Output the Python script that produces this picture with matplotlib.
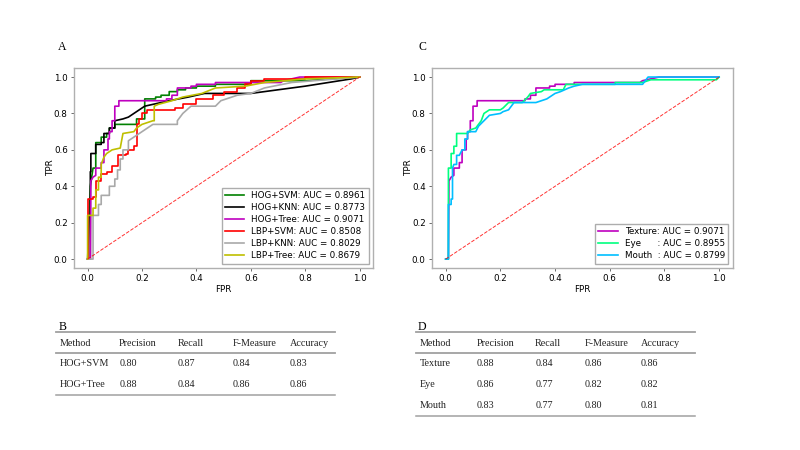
import matplotlib.pyplot as plt
from matplotlib.lines import Line2D

# ROC corner points (panel A)
hog_svm_fpr = [0, 0.01, 0.02, 0.03, 0.03, 0.05, 0.05, 0.07, 0.07, 0.08, 0.08, 0.10, 0.10, 0.18, 0.18, 0.21, 0.21, 0.25, 0.25, 0.27, 0.27, 0.30, 0.30, 0.33, 0.33, 0.36, 0.36, 0.40, 0.40, 0.47, 0.47, 0.60, 0.60, 0.80, 1.0]
hog_svm_tpr = [0, 0.40, 0.50, 0.50, 0.64, 0.64, 0.67, 0.67, 0.69, 0.69, 0.72, 0.72, 0.74, 0.74, 0.77, 0.77, 0.88, 0.88, 0.89, 0.89, 0.90, 0.90, 0.92, 0.92, 0.93, 0.93, 0.94, 0.94, 0.95, 0.95, 0.96, 0.96, 0.98, 0.98, 1.0]

hog_knn_fpr = [0, 0.01, 0.01, 0.012, 0.012, 0.03, 0.03, 0.05, 0.05, 0.06, 0.06, 0.08, 0.08, 0.10, 0.10, 0.13, 0.15, 0.17, 0.21, 0.30, 0.37, 0.43, 0.60, 0.80, 0.97, 1.0]
hog_knn_tpr = [0, 0, 0.48, 0.48, 0.58, 0.58, 0.63, 0.63, 0.64, 0.64, 0.69, 0.69, 0.72, 0.72, 0.76, 0.77, 0.78, 0.80, 0.84, 0.87, 0.89, 0.91, 0.91, 0.95, 0.99, 1.0]

tree_fpr = [0, 0.01, 0.012, 0.02, 0.02, 0.03, 0.03, 0.05, 0.05, 0.06, 0.06, 0.075, 0.075, 0.08, 0.08, 0.09, 0.09, 0.10, 0.10, 0.115, 0.115, 0.29, 0.29, 0.31, 0.31, 0.33, 0.33, 0.38, 0.38, 0.40, 0.40, 0.47, 0.47, 0.71, 0.72, 0.75, 0.78, 1.0]
tree_tpr = [0, 0, 0.43, 0.45, 0.45, 0.46, 0.50, 0.50, 0.53, 0.53, 0.60, 0.60, 0.66, 0.66, 0.70, 0.70, 0.76, 0.76, 0.84, 0.84, 0.87, 0.87, 0.88, 0.88, 0.90, 0.90, 0.94, 0.94, 0.95, 0.95, 0.96, 0.96, 0.97, 0.97, 0.98, 0.99, 1.0, 1.0]

lbp_svm_fpr = [0, 0, 0.02, 0.02, 0.03, 0.03, 0.05, 0.05, 0.07, 0.07, 0.09, 0.09, 0.11, 0.11, 0.14, 0.14, 0.15, 0.15, 0.17, 0.17, 0.18, 0.18, 0.19, 0.19, 0.20, 0.20, 0.22, 0.22, 0.32, 0.32, 0.35, 0.35, 0.40, 0.40, 0.46, 0.46, 0.50, 0.50, 0.55, 0.55, 0.58, 0.58, 0.60, 0.60, 0.65, 0.65, 0.80, 0.80, 1.0]
lbp_svm_tpr = [0, 0.33, 0.33, 0.34, 0.34, 0.43, 0.43, 0.47, 0.47, 0.48, 0.48, 0.51, 0.51, 0.57, 0.57, 0.58, 0.58, 0.60, 0.60, 0.62, 0.62, 0.74, 0.74, 0.77, 0.77, 0.80, 0.80, 0.82, 0.82, 0.83, 0.83, 0.85, 0.85, 0.88, 0.88, 0.90, 0.90, 0.92, 0.92, 0.94, 0.94, 0.96, 0.96, 0.98, 0.98, 0.99, 0.99, 1.0, 1.0]

lbp_knn_fpr = [0, 0.02, 0.02, 0.04, 0.04, 0.05, 0.05, 0.08, 0.08, 0.10, 0.10, 0.11, 0.11, 0.12, 0.12, 0.13, 0.13, 0.15, 0.15, 0.20, 0.24, 0.33, 0.33, 0.35, 0.38, 0.47, 0.49, 0.55, 0.60, 0.65, 0.75, 1.0]
lbp_knn_tpr = [0, 0, 0.24, 0.24, 0.30, 0.30, 0.35, 0.35, 0.40, 0.40, 0.44, 0.44, 0.49, 0.49, 0.55, 0.55, 0.60, 0.60, 0.65, 0.70, 0.74, 0.74, 0.76, 0.80, 0.84, 0.84, 0.87, 0.90, 0.91, 0.94, 0.97, 1.0]

lbp_tree_fpr = [0, 0, 0.02, 0.02, 0.03, 0.03, 0.04, 0.04, 0.05, 0.05, 0.06, 0.07, 0.09, 0.12, 0.12, 0.13, 0.17, 0.18, 0.20, 0.24, 0.245, 0.245, 0.26, 0.31, 0.35, 0.42, 0.47, 0.58, 0.65, 0.80, 1.0]
lbp_tree_tpr = [0, 0.24, 0.24, 0.28, 0.28, 0.38, 0.38, 0.45, 0.45, 0.52, 0.56, 0.58, 0.60, 0.61, 0.61, 0.69, 0.70, 0.72, 0.74, 0.76, 0.76, 0.84, 0.85, 0.87, 0.89, 0.91, 0.94, 0.95, 0.97, 0.99, 1.0]

# panel C
eye_fpr = [0, 0.01, 0.01, 0.02, 0.02, 0.03, 0.03, 0.04, 0.04, 0.08, 0.09, 0.11, 0.12, 0.13, 0.14, 0.16, 0.20, 0.21, 0.23, 0.28, 0.30, 0.31, 0.35, 0.36, 0.43, 0.44, 0.62, 0.62, 0.72, 0.75, 0.99, 1.0]
eye_tpr = [0, 0, 0.50, 0.50, 0.58, 0.58, 0.62, 0.62, 0.69, 0.69, 0.71, 0.72, 0.74, 0.76, 0.80, 0.82, 0.82, 0.83, 0.86, 0.86, 0.89, 0.91, 0.92, 0.93, 0.93, 0.96, 0.96, 0.97, 0.97, 0.985, 0.985, 1.0]

mouth_fpr = [0, 0.01, 0.01, 0.02, 0.02, 0.025, 0.025, 0.03, 0.04, 0.04, 0.05, 0.06, 0.07, 0.07, 0.08, 0.08, 0.11, 0.12, 0.14, 0.16, 0.20, 0.21, 0.23, 0.25, 0.33, 0.35, 0.37, 0.40, 0.42, 0.45, 0.47, 0.50, 0.72, 0.73, 0.74, 1.0]
mouth_tpr = [0, 0, 0.30, 0.30, 0.33, 0.33, 0.50, 0.52, 0.52, 0.57, 0.57, 0.60, 0.60, 0.66, 0.66, 0.70, 0.70, 0.73, 0.76, 0.79, 0.80, 0.81, 0.82, 0.86, 0.86, 0.87, 0.88, 0.91, 0.92, 0.94, 0.95, 0.96, 0.96, 0.98, 1.0, 1.0]

# tables
table_header = ["Method", "Precision", "Recall", "F-Measure", "Accuracy"]
table_b = [["HOG+SVM", "0.80", "0.87", "0.84", "0.83"],
           ["HOG+Tree", "0.88", "0.84", "0.86", "0.86"]]
table_d = [["Texture", "0.88", "0.84", "0.86", "0.86"],
           ["Eye", "0.86", "0.77", "0.82", "0.82"],
           ["Mouth", "0.83", "0.77", "0.80", "0.81"]]

fig = plt.figure(figsize=(8, 4.5), dpi=100)
axA = fig.add_axes([0.0925, 0.404, 0.374, 0.445])
axC = fig.add_axes([0.540, 0.404, 0.376, 0.445])

lw = 1.2
axA.plot(hog_svm_fpr, hog_svm_tpr, color='green', lw=lw, label='HOG+SVM: AUC = 0.8961')
axA.plot(hog_knn_fpr, hog_knn_tpr, color='black', lw=lw, label='HOG+KNN: AUC = 0.8773')
axA.plot(tree_fpr, tree_tpr, color='m', lw=lw, label='HOG+Tree: AUC = 0.9071')
axA.plot(lbp_svm_fpr, lbp_svm_tpr, color='red', lw=lw, label='LBP+SVM: AUC = 0.8508')
axA.plot(lbp_knn_fpr, lbp_knn_tpr, color='darkgrey', lw=lw, label='LBP+KNN: AUC = 0.8029')
axA.plot(lbp_tree_fpr, lbp_tree_tpr, color='y', lw=lw, label='LBP+Tree: AUC = 0.8679')

axC.plot(tree_fpr, tree_tpr, color='m', lw=lw, label='Texture: AUC = 0.9071')
axC.plot(eye_fpr, eye_tpr, color='springgreen', lw=lw, label='Eye      : AUC = 0.8955')
axC.plot(mouth_fpr, mouth_tpr, color='deepskyblue', lw=lw, label='Mouth  : AUC = 0.8799')

for ax in (axA, axC):
    ax.plot([0, 1], [0, 1], color='red', ls='--', lw=0.7, alpha=0.8)
    ax.set_xlabel('FPR', fontsize=6.3, labelpad=1)
    ax.set_ylabel('TPR', fontsize=6.3, labelpad=-1)
    ax.set_xticks([0, 0.2, 0.4, 0.6, 0.8, 1.0])
    ax.set_yticks([0, 0.2, 0.4, 0.6, 0.8, 1.0])
    ax.tick_params(labelsize=6.3, length=2.5, width=0.6, pad=2, color='#555555')
    for s in ax.spines.values():
        s.set_color('#b0b0b0')
        s.set_linewidth(1.0)
    ax.legend(loc='lower right', fontsize=6.3, frameon=True, fancybox=False,
              edgecolor='#999999', handlelength=2.2, borderpad=0.4, labelspacing=0.35)

# panel letters
for lx, ly, letter in [(0.078, 0.895, 'A'), (0.078, 0.273, 'B'), (0.528, 0.895, 'C'), (0.528, 0.273, 'D')]:
    fig.text(lx, ly, letter, fontsize=8.5, family='Liberation Serif', ha='center', va='center')

col_offsets = [0.005, 0.079, 0.152, 0.221, 0.292]
col_offsets_d = [0.005, 0.076, 0.149, 0.211, 0.281]


def draw_table(x0, x1, rows, offsets):
    y_top = 1 - 332 / 450
    y_head = 1 - 343 / 450
    y_line = 1 - 353 / 450
    row_h = 21 / 450
    for y in (y_top, y_line):
        fig.add_artist(Line2D([x0, x1], [y, y], color='#a0a0a0', lw=1.3))
    for off, h in zip(offsets, table_header):
        fig.text(x0 + off, y_head, h, fontsize=7.3, family='Liberation Serif', va='center', color='#222222')
    y = y_line
    for r in rows:
        yc = y - row_h / 2 - 0.001
        for off, v in zip(offsets, r):
            fig.text(x0 + off, yc, v, fontsize=7.3, family='Liberation Serif', va='center', color='#222222')
        y -= row_h
    fig.add_artist(Line2D([x0, x1], [y, y], color='#a0a0a0', lw=1.1))


draw_table(56 / 800, 335 / 800, table_b, col_offsets)
draw_table(416 / 800, 695 / 800, table_d, col_offsets_d)

fig.savefig('out.png', dpi=100)
